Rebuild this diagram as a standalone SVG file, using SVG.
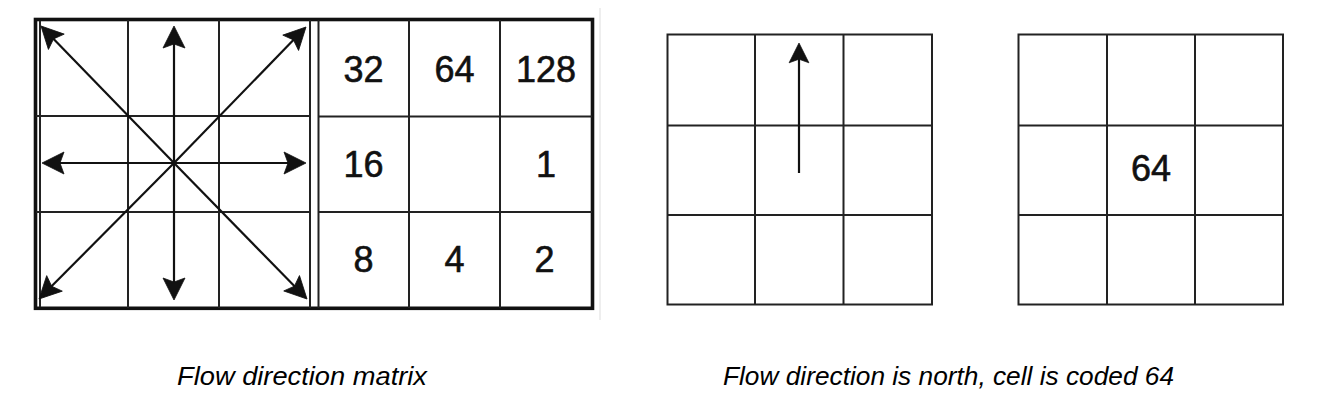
<svg xmlns="http://www.w3.org/2000/svg" xmlns:xlink="http://www.w3.org/1999/xlink" width="1332" height="406" viewBox="0 0 1332 406">
  <style>
    .grid { stroke: #222; stroke-width: 2; fill: none; }
    .frame { stroke: #111; stroke-width: 3.6; fill: none; }
    .arrow { stroke: #111; stroke-width: 2.2; fill: none; }
    .head { fill: #111; stroke: #111; stroke-width: 0.8; stroke-linejoin: round; }
    .num { font-family: "Liberation Sans", Arial, sans-serif; font-size: 36px; fill: #111; stroke: #111; stroke-width: 0.6; text-anchor: middle; }
    .cap { font-family: "Liberation Sans", Arial, sans-serif; font-size: 26.5px; font-style: italic; fill: #000; }
  </style>
  <defs>
    <path id="ah" class="head" d="M0,0 L-22,-11 L-18,0 L-22,11 Z"/>
  </defs>
  <rect width="1332" height="406" fill="#fff"/>

  <g id="direction-grid">
    <rect class="frame" x="35.5" y="19.5" width="557" height="288.8"/>
    <line class="grid" x1="40" y1="21" x2="40" y2="307" stroke-width="1.5"/>
    <line class="grid" x1="128" y1="20" x2="128" y2="308"/>
    <line class="grid" x1="219" y1="20" x2="219" y2="308"/>
    <line class="grid" x1="310" y1="20" x2="310" y2="308"/>
    <line class="grid" x1="36" y1="116" x2="310" y2="116"/>
    <line class="grid" x1="36" y1="212" x2="310" y2="212"/>
  </g>

  <g id="code-matrix">
    <line class="grid" x1="318.5" y1="20" x2="318.5" y2="308"/>
    <line class="grid" x1="409" y1="20" x2="409" y2="308"/>
    <line class="grid" x1="500" y1="20" x2="500" y2="308"/>
    <line class="grid" x1="318.5" y1="116.5" x2="592" y2="116.5"/>
    <line class="grid" x1="318.5" y1="212" x2="592" y2="212"/>
    <text class="num" x="363.5" y="82">32</text>
    <text class="num" x="454.5" y="82">64</text>
    <text class="num" x="546" y="82">128</text>
    <text class="num" x="363.5" y="176.5">16</text>
    <text class="num" x="546" y="176.5">1</text>
    <text class="num" x="363.5" y="271.5">8</text>
    <text class="num" x="454.5" y="271.5">4</text>
    <text class="num" x="544.5" y="271.5">2</text>
  </g>
  <line x1="600" y1="8" x2="600" y2="320" stroke="#e8e8e8" stroke-width="1.5"/>

  <g id="north-grid">
    <rect class="grid" x="667.5" y="34.5" width="264.5" height="270"/>
    <line class="grid" x1="755" y1="34.5" x2="755" y2="304.5"/>
    <line class="grid" x1="843.5" y1="34.5" x2="843.5" y2="304.5"/>
    <line class="grid" x1="667.5" y1="125.5" x2="932" y2="125.5"/>
    <line class="grid" x1="667.5" y1="215" x2="932" y2="215"/>
  </g>

  <g id="coded-grid">
    <rect class="grid" x="1018.5" y="34.5" width="264.5" height="270"/>
    <line class="grid" x1="1107" y1="34.5" x2="1107" y2="304.5"/>
    <line class="grid" x1="1195" y1="34.5" x2="1195" y2="304.5"/>
    <line class="grid" x1="1018.5" y1="125.5" x2="1283" y2="125.5"/>
    <line class="grid" x1="1018.5" y1="215" x2="1283" y2="215"/>
    <text class="num" x="1151" y="181">64</text>
  </g>

  <g id="connectors">
    <line class="arrow" x1="174" y1="163" x2="174" y2="41"/>
    <use xlink:href="#ah" href="#ah" transform="translate(174,26) rotate(-90)"/>
    <line class="arrow" x1="174" y1="163" x2="174" y2="285"/>
    <use xlink:href="#ah" href="#ah" transform="translate(174,300) rotate(90)"/>
    <line class="arrow" x1="174" y1="163" x2="57" y2="163"/>
    <use xlink:href="#ah" href="#ah" transform="translate(42,163) rotate(180)"/>
    <line class="arrow" x1="174" y1="163" x2="291" y2="163"/>
    <use xlink:href="#ah" href="#ah" transform="translate(306,163)"/>
    <line class="arrow" x1="174" y1="163" x2="51.45" y2="36.76"/>
    <use xlink:href="#ah" href="#ah" transform="translate(41,26) rotate(-134.15)"/>
    <line class="arrow" x1="174" y1="163" x2="295.55" y2="37.77"/>
    <use xlink:href="#ah" href="#ah" transform="translate(306,27) rotate(-45.85)"/>
    <line class="arrow" x1="174" y1="163" x2="49.57" y2="288.35"/>
    <use xlink:href="#ah" href="#ah" transform="translate(39,299) rotate(134.78)"/>
    <line class="arrow" x1="174" y1="163" x2="296.51" y2="288.27"/>
    <use xlink:href="#ah" href="#ah" transform="translate(307,299) rotate(45.64)"/>
    <line class="arrow" x1="799" y1="173" x2="799" y2="57"/>
    <use xlink:href="#ah" href="#ah" transform="translate(799,43) rotate(-90) scale(0.9)"/>
  </g>

  <g id="captions">
    <text class="cap" x="177" y="385" textLength="250" lengthAdjust="spacingAndGlyphs">Flow direction matrix</text>
    <text class="cap" x="723" y="385" textLength="451" lengthAdjust="spacingAndGlyphs">Flow direction is north, cell is coded 64</text>
  </g>
</svg>
